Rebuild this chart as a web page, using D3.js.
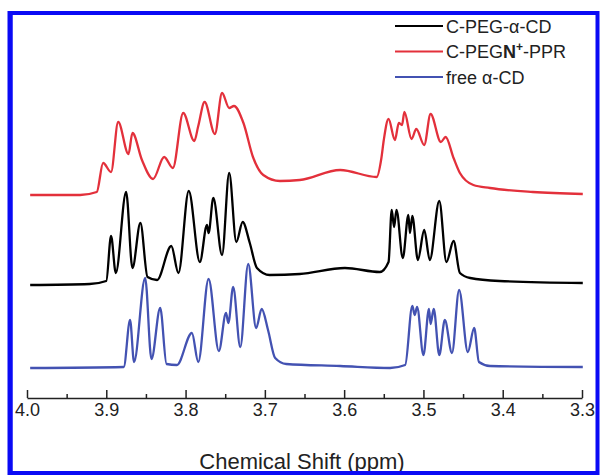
<!DOCTYPE html>
<html>
<head>
<meta charset="utf-8">
<script src="https://cdn.jsdelivr.net/npm/d3@7"></script>
<style>
  html, body { margin: 0; padding: 0; background: #fff; }
  svg { display: block; font-family: "Liberation Sans", Arial, sans-serif; }
</style>
</head>
<body>
<svg id="chart" width="600" height="475"></svg>
<script>
// 1H NMR spectra, 3.3–4.0 ppm, intensities in arbitrary units above each trace's baseline
const seriesNames = ["C-PEG-\u03b1-CD", "C-PEGN+-PPR", "free \u03b1-CD"];

const freeCD = [
  [3.996, 0], [3.878, 1], [3.870, 48], [3.865, 6], [3.851, 90], [3.843, 9],
  [3.832, 60], [3.824, 4], [3.811, 3], [3.792, 35], [3.784, 6], [3.771, 89],
  [3.758, 17], [3.749, 55], [3.746, 45], [3.740, 81], [3.731, 21], [3.721, 104],
  [3.711, 40], [3.704, 59], [3.696, 38], [3.687, 10], [3.673, 4], [3.605, 2],
  [3.542, 0], [3.523, 3], [3.514, 62], [3.511, 53], [3.508, 61], [3.500, 13],
  [3.493, 59], [3.491, 44], [3.487, 59], [3.480, 13], [3.473, 48], [3.464, 15],
  [3.455, 78], [3.444, 16], [3.436, 40], [3.430, 6], [3.416, 2], [3.299, 1]
];

const pegCD = [
  [3.996, 0], [3.921, 1], [3.900, 4], [3.894, 49], [3.888, 12], [3.875, 93],
  [3.867, 17], [3.857, 62], [3.848, 8], [3.836, 5], [3.818, 39], [3.809, 12],
  [3.796, 94], [3.782, 23], [3.773, 60], [3.771, 52], [3.765, 87], [3.754, 30],
  [3.745, 112], [3.736, 43], [3.728, 63], [3.719, 42], [3.710, 17], [3.694, 10],
  [3.656, 11], [3.599, 17], [3.555, 13], [3.544, 23], [3.540, 75], [3.537, 58],
  [3.534, 75], [3.526, 27], [3.519, 70], [3.517, 52], [3.514, 69], [3.507, 25],
  [3.499, 55], [3.492, 25], [3.480, 84], [3.471, 23], [3.462, 44], [3.454, 12],
  [3.441, 7], [3.404, 4], [3.299, 2]
];

const pegPPR = [
  [3.996, 0], [3.933, 0], [3.912, 3], [3.904, 32], [3.894, 23], [3.885, 73],
  [3.872, 41], [3.867, 62], [3.855, 35], [3.841, 16], [3.827, 38], [3.816, 27],
  [3.803, 82], [3.789, 54], [3.784, 69], [3.776, 93], [3.763, 61], [3.754, 102],
  [3.745, 87], [3.739, 89], [3.727, 72], [3.715, 38], [3.702, 20], [3.681, 14],
  [3.656, 15], [3.605, 25], [3.559, 18], [3.553, 37], [3.550, 55], [3.544, 76],
  [3.536, 55], [3.531, 72], [3.527, 70], [3.524, 83], [3.515, 56], [3.509, 66],
  [3.499, 50], [3.491, 81], [3.478, 53], [3.472, 58], [3.462, 37], [3.454, 22],
  [3.437, 10], [3.416, 7], [3.362, 3], [3.299, 1]
];

const majorTicks = [4.0, 3.9, 3.8, 3.7, 3.6, 3.5, 3.4, 3.3];
const minorTicks = [3.95, 3.85, 3.75, 3.65, 3.55, 3.45, 3.35];

// stacking: each trace sits on its own vertical offset
const traces = [
  { data: pegPPR, offset: 203, color: "#e3303b" },
  { data: pegCD,  offset: 113, color: "#000000" },
  { data: freeCD, offset: 30,  color: "#4352b2" }
];

const svg = d3.select("#chart");

const x = d3.scaleLinear().domain([4.0, 3.3]).range([27, 582]);
const y = d3.scaleLinear().domain([0, 386]).range([398, 12]);

const line = d3.line().curve(d3.curveMonotoneX);

traces.forEach(t => {
  svg.append("path")
    .attr("d", line(t.data.map(d => [x(d[0]), y(t.offset + d[1])])))
    .attr("fill", "none")
    .attr("stroke", t.color)
    .attr("stroke-width", 2.3)
    .attr("stroke-linejoin", "round");
});

// x axis: ticks pointing up, labels below
const axisY = 398;
const gMinor = svg.append("g").attr("transform", `translate(0,${axisY})`)
  .call(d3.axisBottom(x).tickValues(minorTicks).tickSize(-4).tickSizeOuter(0).tickFormat(""));
gMinor.select(".domain").remove();
gMinor.selectAll("line").attr("stroke", "#222").attr("stroke-width", 1.5);

const gMajor = svg.append("g").attr("transform", `translate(0,${axisY})`)
  .call(d3.axisBottom(x).tickValues(majorTicks).tickSize(-8).tickSizeOuter(0)
    .tickPadding(5).tickFormat(d3.format(".1f")));
gMajor.select(".domain").attr("stroke", "#222").attr("stroke-width", 1.5);
gMajor.selectAll("line").attr("stroke", "#222").attr("stroke-width", 1.5);
gMajor.selectAll("text")
  .attr("font-size", 18)
  .attr("font-family", "'Liberation Sans', Arial, sans-serif")
  .attr("fill", "#222");

svg.append("text")
  .attr("x", 302).attr("y", 469)
  .attr("text-anchor", "middle")
  .attr("font-size", 22)
  .attr("fill", "#222")
  .text("Chemical Shift (ppm)");

// legend
const legendColors = ["#000000", "#e3303b", "#4352b2"];
const legend = svg.append("g");
seriesNames.forEach((name, i) => {
  const ly = 26 + i * 25.5;
  legend.append("line")
    .attr("x1", 395).attr("x2", 443).attr("y1", ly).attr("y2", ly)
    .attr("stroke", legendColors[i]).attr("stroke-width", 2);
  const txt = legend.append("text")
    .attr("x", 446).attr("y", ly + 6.5)
    .attr("font-size", 18).attr("fill", "#222");
  if (name === "C-PEGN+-PPR") {
    txt.append("tspan").text("C-PEG");
    txt.append("tspan").attr("font-weight", "bold").text("N");
    txt.append("tspan").attr("font-size", 12).attr("dy", -7).attr("font-weight", "bold").text("+");
    txt.append("tspan").attr("dy", 7).text("-PPR");
  } else {
    txt.text(name);
  }
});

// frame
const frame = svg.append("g").attr("fill", "none").attr("stroke", "#0a0af5");
frame.append("rect").attr("x", 10.5).attr("y", 13).attr("width", 587).attr("height", 460).attr("stroke-width", 4);
frame.append("line").attr("x1", 10).attr("x2", 10).attr("y1", 11).attr("y2", 475).attr("stroke-width", 5);
</script>
</body>
</html>
